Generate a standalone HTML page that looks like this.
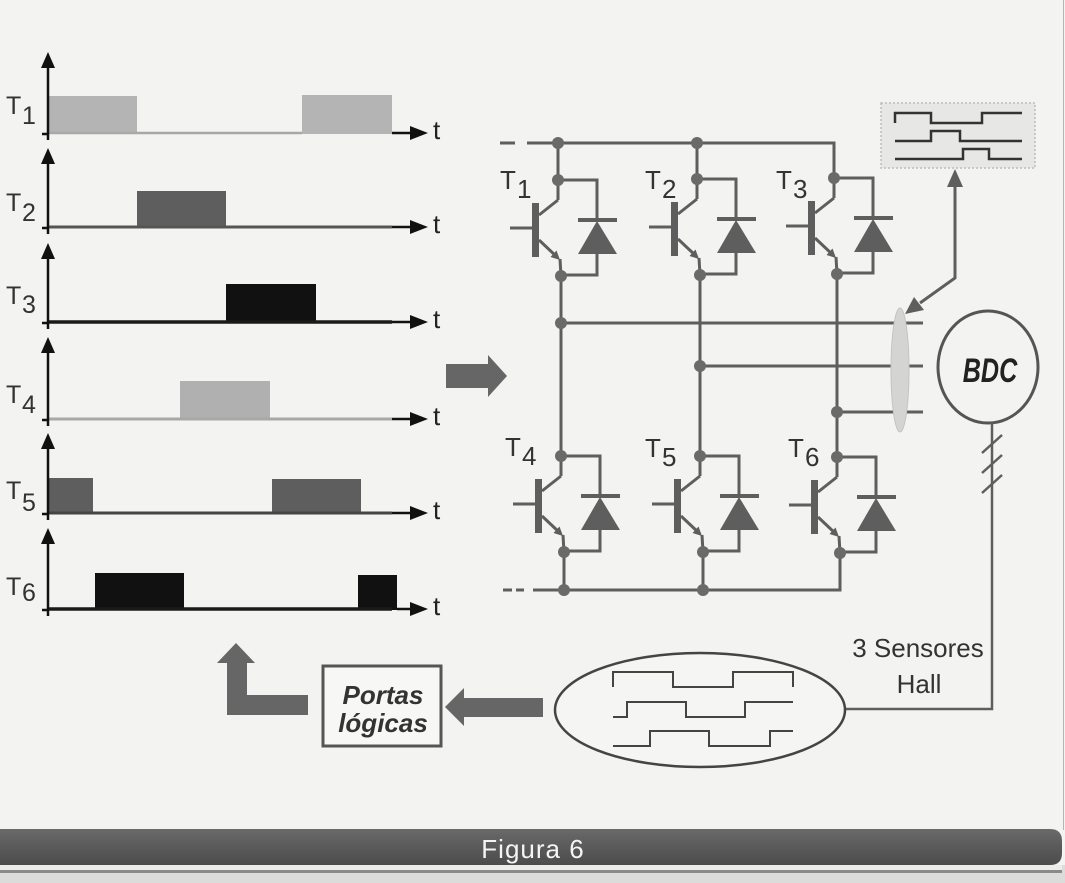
<!DOCTYPE html>
<html>
<head>
<meta charset="utf-8">
<style>
  html,body{margin:0;padding:0;background:#f3f3f1;}
  body{width:1065px;height:883px;overflow:hidden;}
  svg{display:block;}
  text{font-family:"Liberation Sans",sans-serif;}
</style>
</head>
<body>
<svg width="1065" height="883" viewBox="0 0 1065 883" xmlns="http://www.w3.org/2000/svg">
  <defs>
    <linearGradient id="bar" x1="0" y1="0" x2="0" y2="1">
      <stop offset="0" stop-color="#6a6a6a"/>
      <stop offset="0.5" stop-color="#5a5a5a"/>
      <stop offset="1" stop-color="#4c4c4c"/>
    </linearGradient>
    <g id="cell">
      <g stroke="#5e5e5e" stroke-width="3" fill="none">
        <line x1="0" y1="0" x2="0" y2="20"/>
        <line x1="0" y1="20" x2="-19" y2="35"/>
        <line x1="-48" y1="48" x2="-26" y2="48"/>
        <line x1="-19" y1="60" x2="-1" y2="77"/>
        <line x1="2" y1="79" x2="3" y2="96"/>
        <polyline points="0,0 39,0 39,40"/>
        <polyline points="39,74 39,95 3,95"/>
      </g>
      <rect x="-26" y="23" width="7" height="54" fill="#5e5e5e"/>
      <polygon points="2,80 -7.5,77 -1.5,70.5" fill="#5e5e5e"/>
      <rect x="20" y="38" width="39" height="4" fill="#5e5e5e"/>
      <polygon points="39,41 20,74 59,74" fill="#5e5e5e"/>
      <circle cx="0" cy="0" r="6" fill="#6a6a6a"/>
      <circle cx="3" cy="96" r="6" fill="#6a6a6a"/>
    </g>
  </defs>

  <!-- right edge line -->
  <line x1="1063.5" y1="0" x2="1063.5" y2="830" stroke="#b5b5b5" stroke-width="1"/>

  <!-- ===== Timing diagrams ===== -->
  <g>
    <!-- T1 -->
    <rect x="48" y="96" width="89" height="38" fill="#b4b4b4"/>
    <rect x="302" y="95" width="90" height="39" fill="#b4b4b4"/>
    <line x1="48" y1="133" x2="302" y2="133" stroke="#a8a8a8" stroke-width="2.5"/>
    <!-- T2 -->
    <rect x="137" y="191" width="89" height="37" fill="#5e5e5e"/>
    <line x1="48" y1="227" x2="392" y2="227" stroke="#555" stroke-width="3"/>
    <!-- T3 -->
    <rect x="226" y="284" width="90" height="39" fill="#111"/>
    <line x1="48" y1="322" x2="392" y2="322" stroke="#1a1a1a" stroke-width="3.5"/>
    <!-- T4 -->
    <rect x="180" y="381" width="90" height="39" fill="#b0b0b0"/>
    <line x1="48" y1="419" x2="392" y2="419" stroke="#a8a8a8" stroke-width="3"/>
    <!-- T5 -->
    <rect x="48" y="478" width="45" height="36" fill="#5e5e5e"/>
    <rect x="272" y="479" width="89" height="35" fill="#5e5e5e"/>
    <line x1="48" y1="513" x2="392" y2="513" stroke="#444" stroke-width="3"/>
    <!-- T6 -->
    <rect x="95" y="573" width="89" height="37" fill="#111"/>
    <rect x="358" y="575" width="39" height="35" fill="#111"/>
    <line x1="48" y1="609" x2="392" y2="609" stroke="#1a1a1a" stroke-width="3.5"/>

    <g stroke="#111" stroke-width="2.5" fill="none">
      <line x1="48" y1="64" x2="48" y2="140"/>
      <line x1="48" y1="160" x2="48" y2="234"/>
      <line x1="48" y1="255" x2="48" y2="329"/>
      <line x1="48" y1="349" x2="48" y2="426"/>
      <line x1="48" y1="445" x2="48" y2="520"/>
      <line x1="48" y1="540" x2="48" y2="616"/>
      <line x1="42" y1="134" x2="48" y2="134"/>
      <line x1="42" y1="228" x2="48" y2="228"/>
      <line x1="42" y1="323" x2="48" y2="323"/>
      <line x1="42" y1="420" x2="48" y2="420"/>
      <line x1="42" y1="514" x2="48" y2="514"/>
      <line x1="42" y1="610" x2="48" y2="610"/>
      <line x1="392" y1="133" x2="412" y2="133"/>
      <line x1="392" y1="227" x2="412" y2="227"/>
      <line x1="392" y1="322" x2="412" y2="322"/>
      <line x1="392" y1="419" x2="412" y2="419"/>
      <line x1="392" y1="513" x2="412" y2="513"/>
      <line x1="397" y1="609" x2="412" y2="609"/>
    </g>
    <g fill="#111">
      <polygon points="48,52 41,68 55,68"/>
      <polygon points="48,148 41,164 55,164"/>
      <polygon points="48,243 41,259 55,259"/>
      <polygon points="48,337 41,353 55,353"/>
      <polygon points="48,433 41,449 55,449"/>
      <polygon points="48,528 41,544 55,544"/>
      <polygon points="428,133 410,126 410,140"/>
      <polygon points="428,227 410,220 410,234"/>
      <polygon points="428,322 410,315 410,329"/>
      <polygon points="428,419 410,412 410,426"/>
      <polygon points="428,513 410,506 410,520"/>
      <polygon points="428,609 410,602 410,616"/>
    </g>
    <g fill="#222" font-size="26">
      <text x="433" y="139">t</text>
      <text x="433" y="233">t</text>
      <text x="433" y="328">t</text>
      <text x="433" y="425">t</text>
      <text x="433" y="519">t</text>
      <text x="433" y="615">t</text>
    </g>
    <g fill="#333" font-size="25">
      <text x="6" y="114">T</text><text x="22" y="124">1</text>
      <text x="6" y="211">T</text><text x="22" y="221">2</text>
      <text x="6" y="304">T</text><text x="22" y="313">3</text>
      <text x="6" y="403">T</text><text x="22" y="413">4</text>
      <text x="6" y="499">T</text><text x="22" y="511">5</text>
      <text x="6" y="595">T</text><text x="22" y="601">6</text>
    </g>
  </g>

  <!-- big right arrow -->
  <polygon points="446,364 488,364 488,355 507,376 488,397 488,388 446,388" fill="#666"/>

  <!-- ===== Inverter circuit ===== -->
  <g stroke="#5e5e5e" stroke-width="3" fill="none">
    <path d="M500 143 H515"/>
    <path d="M527 143 H834 V178"/>
    <path d="M558 143 V180"/>
    <path d="M697 143 V179"/>
    <path d="M561 276 V456"/>
    <path d="M700 275 V456"/>
    <path d="M837 274 V457"/>
    <path d="M564 552 V590"/>
    <path d="M703 552 V590"/>
    <path d="M503 590 H512 M516 590 H524"/>
    <path d="M533 590 H840 V553"/>
    <path d="M561 323 H923"/>
    <path d="M700 366 H923"/>
    <path d="M837 412 H923"/>
  </g>
  <use href="#cell" x="558" y="180"/>
  <use href="#cell" x="697" y="179"/>
  <use href="#cell" x="834" y="178"/>
  <use href="#cell" x="561" y="456"/>
  <use href="#cell" x="700" y="456"/>
  <use href="#cell" x="837" y="457"/>
  <g fill="#6a6a6a">
    <circle cx="558" cy="143" r="6"/>
    <circle cx="697" cy="143" r="6"/>
    <circle cx="561" cy="323" r="6"/>
    <circle cx="700" cy="366" r="6"/>
    <circle cx="837" cy="412" r="6"/>
    <circle cx="564" cy="590" r="6"/>
    <circle cx="703" cy="590" r="6"/>
  </g>
  <g fill="#333" font-size="26">
    <text x="500" y="189">T</text><text x="517" y="198">1</text>
    <text x="645" y="189">T</text><text x="662" y="198">2</text>
    <text x="776" y="189">T</text><text x="793" y="198">3</text>
    <text x="505" y="456">T</text><text x="522" y="465">4</text>
    <text x="645" y="457">T</text><text x="662" y="466">5</text>
    <text x="788" y="457">T</text><text x="805" y="466">6</text>
  </g>

  <!-- cable bundle ellipse -->
  <ellipse cx="900" cy="370" rx="9" ry="62" fill="#d4d4d2" stroke="#c4c4c4" stroke-width="1"/>

  <!-- top-right waveform box -->
  <rect x="881" y="103" width="154" height="65" fill="#e7e7e5" stroke="#bdbdbd" stroke-width="1.5" stroke-dasharray="2,2"/>
  <g stroke="#333" stroke-width="2.5" fill="none">
    <polyline points="895,123 895,113 931,113 931,123 982,123 982,113 1022,113"/>
    <polyline points="895,141 931,141 931,131 960,131 960,141 1022,141"/>
    <polyline points="895,159 963,159 963,149 989,149 989,159 1022,159"/>
  </g>

  <!-- arrow from bundle to box -->
  <g stroke="#5e5e5e" stroke-width="3" fill="none">
    <polyline points="955,184 955,278 920,303"/>
  </g>
  <polygon points="955,169 947,187 963,187" fill="#5e5e5e"/>
  <polygon points="905,314 914,297 924,310" fill="#5e5e5e"/>

  <!-- BDC motor -->
  <ellipse cx="988" cy="367" rx="50" ry="56" fill="none" stroke="#555" stroke-width="3"/>
  <text x="0" y="0" font-size="34" font-style="italic" font-weight="bold" fill="#222" text-anchor="middle" transform="translate(990,382) scale(0.74,1)">BDC</text>

  <!-- sensor line -->
  <g stroke="#5e5e5e" stroke-width="2.5" fill="none">
    <polyline points="992,423 992,709 845,709"/>
    <line x1="982" y1="453" x2="1002" y2="435"/>
    <line x1="982" y1="473" x2="1002" y2="455"/>
    <line x1="982" y1="493" x2="1002" y2="475"/>
  </g>
  <g fill="#333" font-size="26" text-anchor="middle">
    <text x="918" y="657">3 Sensores</text>
    <text x="919" y="693">Hall</text>
  </g>

  <!-- Hall ellipse -->
  <ellipse cx="700" cy="710" rx="145" ry="57" fill="#f5f5f3" stroke="#444" stroke-width="2.5"/>
  <g stroke="#444" stroke-width="2" fill="none">
    <polyline points="613,687 613,672 673,672 673,687 733,687 733,672 793,672 793,687"/>
    <polyline points="613,717 627,717 627,702 686,702 686,717 745,717 745,702 793,702"/>
    <polyline points="613,746 650,746 650,731 709,731 709,746 770,746 770,731 793,731"/>
  </g>

  <!-- left arrow into logic box -->
  <polygon points="445,707 464,688 464,698 543,698 543,717 464,717 464,726" fill="#666"/>

  <!-- Portas lógicas box -->
  <rect x="323" y="666" width="118" height="80" fill="#f7f7f5" stroke="#555" stroke-width="3"/>
  <g fill="#333" font-size="26" font-weight="bold" font-style="italic" text-anchor="middle">
    <text x="383" y="704">Portas</text>
    <text x="383" y="732">lógicas</text>
  </g>

  <!-- L arrow -->
  <polygon points="217,663 236,643 255,663 247,663 247,695 308,695 308,715 227,715 227,663" fill="#666"/>

  <!-- bottom bar -->
  <rect x="0" y="865" width="1065" height="18" fill="#dcdcda"/>
  <rect x="0" y="865" width="1062" height="5" fill="#ececea"/>
  <rect x="0" y="870" width="1062" height="3" fill="#8a8a8a"/>
  <path d="M-5 829 H1050 Q1062 829 1062 841 V853 Q1062 865 1050 865 H-5 Z" fill="url(#bar)"/>
  <text x="533" y="858" font-size="26" fill="#f4f4f4" text-anchor="middle" letter-spacing="1">Figura 6</text>
</svg>
</body>
</html>
